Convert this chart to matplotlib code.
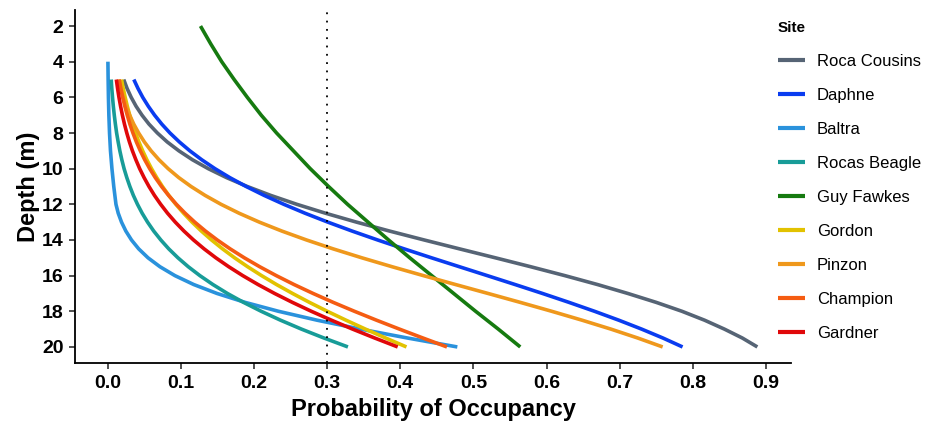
import matplotlib
matplotlib.use("Agg")
import matplotlib.pyplot as plt

plt.rcParams["font.family"] = ["Liberation Sans", "DejaVu Sans"]

sites = ["Roca Cousins", "Daphne", "Baltra", "Rocas Beagle", "Guy Fawkes",
         "Gordon", "Pinzon", "Champion", "Gardner"]
colors = ["#566475", "#0a3cf0", "#2a92dc", "#189c98", "#167a10",
          "#e2c200", "#ef981c", "#f55c12", "#e0080a"]

# depth grids (m)
depth_5 = [5, 5.5, 6, 6.5, 7, 7.5, 8, 8.5, 9, 9.5, 10, 10.5, 11, 11.5, 12,
           12.5, 13, 13.5, 14, 14.5, 15, 15.5, 16, 16.5, 17, 17.5, 18, 18.5,
           19, 19.5, 20]
depth_guy = [2, 3, 4, 5, 6, 7, 8, 9, 10, 11, 12, 13, 14, 15, 16, 17, 18, 19, 20]
depth_baltra = [4, 5, 6, 7, 8, 9, 10, 11, 12, 12.5, 13, 13.5, 14, 14.5, 15,
                15.5, 16, 16.5, 17, 17.5, 18, 18.5, 19, 19.5, 20]

# probability of occupancy
p_roca = [0.0221, 0.0267, 0.0323, 0.0390, 0.0471, 0.0566, 0.0681, 0.0815,
          0.0975, 0.1160, 0.1376, 0.1625, 0.1909, 0.2230, 0.2587, 0.2979,
          0.3403, 0.3854, 0.4327, 0.4811, 0.530, 0.5782, 0.625, 0.6696,
          0.711, 0.7498, 0.785, 0.8159, 0.843, 0.8675, 0.888]
p_daphne = [0.0359, 0.0416, 0.0481, 0.0557, 0.0643, 0.0741, 0.0853, 0.0981,
            0.1125, 0.1287, 0.1468, 0.1670, 0.1894, 0.2140, 0.2409, 0.2699,
            0.3011, 0.3342, 0.3691, 0.4054, 0.4427, 0.4808, 0.519, 0.557,
            0.5944, 0.6306, 0.6655, 0.6987, 0.7299, 0.7590, 0.7858]
p_baltra = [0.0005, 0.0008, 0.0012, 0.0018, 0.0027, 0.004, 0.006, 0.0085,
            0.0115, 0.0146, 0.0191, 0.025, 0.0327, 0.0426, 0.0553, 0.0716,
            0.0921, 0.1178, 0.1496, 0.188, 0.2336, 0.2864, 0.3457, 0.410,
            0.478]
p_beagle = [0.0050, 0.0058, 0.0068, 0.0079, 0.0092, 0.0107, 0.0124, 0.0145,
            0.0168, 0.0195, 0.0226, 0.0263, 0.0305, 0.0353, 0.0409, 0.0473,
            0.0547, 0.0631, 0.0728, 0.0837, 0.0962, 0.1103, 0.1262, 0.1440,
            0.1638, 0.1858, 0.2100, 0.2364, 0.2650, 0.2958, 0.3285]
p_guy = [0.127, 0.141, 0.156, 0.173, 0.191, 0.210, 0.231, 0.254, 0.277,
         0.302, 0.328, 0.356, 0.384, 0.413, 0.443, 0.473, 0.503, 0.534, 0.564]
p_gordon = [0.0191, 0.0214, 0.0241, 0.0270, 0.0303, 0.0341, 0.0382, 0.0428,
            0.0480, 0.0537, 0.0601, 0.0672, 0.0750, 0.0837, 0.0933, 0.1039,
            0.1155, 0.1282, 0.1421, 0.1572, 0.1736, 0.1914, 0.2105, 0.2309,
            0.2528, 0.2759, 0.3003, 0.3259, 0.3525, 0.3801, 0.4085]
p_pinzon = [0.0151, 0.0179, 0.0214, 0.0254, 0.0302, 0.0358, 0.0425, 0.0503,
            0.0595, 0.0703, 0.0828, 0.0973, 0.1141, 0.1333, 0.1551, 0.1798,
            0.2075, 0.2382, 0.2719, 0.3084, 0.3475, 0.3888, 0.4317, 0.4756,
            0.520, 0.5640, 0.607, 0.6485, 0.6879, 0.7246, 0.7586]
p_champion = [0.0160, 0.0182, 0.0207, 0.0236, 0.0269, 0.0305, 0.0347, 0.0394,
              0.0448, 0.0508, 0.0576, 0.0652, 0.0738, 0.0834, 0.0941, 0.1060,
              0.1192, 0.1338, 0.1499, 0.1676, 0.1869, 0.2079, 0.2306, 0.2549,
              0.2809, 0.3084, 0.3374, 0.3676, 0.3989, 0.4311, 0.4638]
p_gardner = [0.0120, 0.0137, 0.0156, 0.0178, 0.0203, 0.0231, 0.0263, 0.0299,
             0.0340, 0.0387, 0.0439, 0.0499, 0.0566, 0.0641, 0.0726, 0.0820,
             0.0926, 0.1044, 0.1175, 0.1320, 0.1480, 0.1656, 0.1848, 0.2057,
             0.2283, 0.2526, 0.2785, 0.3060, 0.3349, 0.3651, 0.3965]

depths = [depth_5, depth_5, depth_baltra, depth_5, depth_guy,
          depth_5, depth_5, depth_5, depth_5]
probs = [p_roca, p_daphne, p_baltra, p_beagle, p_guy,
         p_gordon, p_pinzon, p_champion, p_gardner]

threshold = 0.3

fig = plt.figure(figsize=(9.35, 4.25), dpi=100)
ax = fig.add_axes([0.0802, 0.1459, 0.7658, 0.8306])

for name, col, d, p in zip(sites, colors, depths, probs):
    ax.plot(p, d, color=col, linewidth=2.6, label=name,
            solid_capstyle="butt", solid_joinstyle="round")

ax.axvline(threshold, color="black", linestyle=(0, (1, 3.6)), linewidth=1.3, zorder=5)

ax.set_xlim(-0.0445, 0.934)
ax.set_ylim(20.9, 1.1)
ax.set_xticks([0.0, 0.1, 0.2, 0.3, 0.4, 0.5, 0.6, 0.7, 0.8, 0.9])
ax.set_yticks([2, 4, 6, 8, 10, 12, 14, 16, 18, 20])
ax.tick_params(labelsize=14, length=4.3, width=1.2, color="#333333", pad=4)
for lab in ax.get_xticklabels() + ax.get_yticklabels():
    lab.set_fontweight("bold")

for side in ["top", "right"]:
    ax.spines[side].set_visible(False)
for side in ["left", "bottom"]:
    ax.spines[side].set_linewidth(1.3)

ax.set_xlabel("Probability of Occupancy", fontsize=17, fontweight="bold", labelpad=5)
ax.set_ylabel("Depth (m)", fontsize=17, fontweight="bold", labelpad=1)

leg = fig.legend(loc="upper left", bbox_to_anchor=(0.832, 0.951), frameon=False,
                 title="Site", fontsize=12, labelspacing=1.14, handlelength=1.62,
                 handletextpad=0.72, alignment="left", borderpad=0,
                 borderaxespad=0)
leg.get_title().set_fontweight("bold")
leg.get_title().set_fontsize(11)
for line in leg.get_lines():
    line.set_linewidth(3.0)

fig.savefig("out.png", dpi=100)
